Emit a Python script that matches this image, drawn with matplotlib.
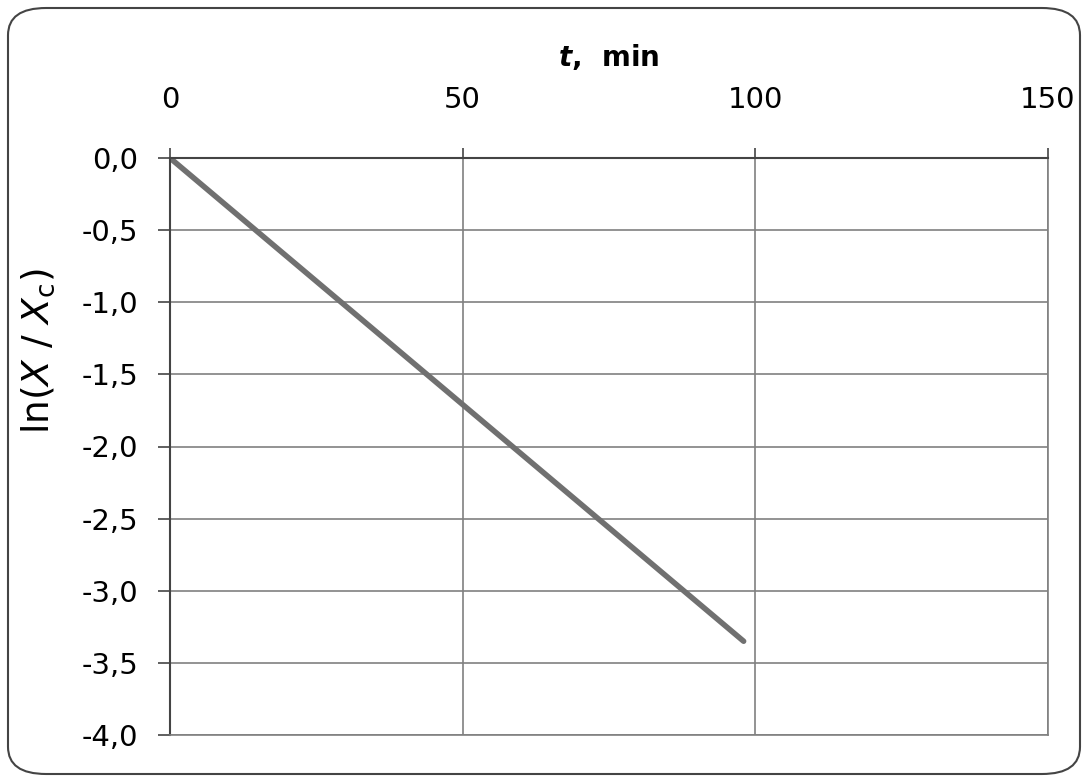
import matplotlib.pyplot as plt
from matplotlib.patches import FancyBboxPatch
from matplotlib.ticker import FuncFormatter

# data
t_min = [0, 98]
ln_ratio = [0.0, -3.35]

x_ticks = [0, 50, 100, 150]
y_ticks = [0.0, -0.5, -1.0, -1.5, -2.0, -2.5, -3.0, -3.5, -4.0]

fig = plt.figure(figsize=(10.88, 7.78), dpi=100)

# rounded frame around the chart
frame = FancyBboxPatch((8 / 1088, 4 / 778), 1072 / 1088, 766 / 778,
                       boxstyle="round,pad=0,rounding_size=0.035",
                       transform=fig.transFigure, fill=False,
                       edgecolor="#444444", linewidth=1.5)
fig.patches.append(frame)

ax = fig.add_axes([170 / 1088, 1 - 735 / 778, 878 / 1088, 577 / 778])
ax.plot(t_min, ln_ratio, color="#707070", linewidth=4, solid_capstyle="round")

ax.set_xlim(0, 150)
ax.set_ylim(-4.0, 0.0)
ax.set_xticks(x_ticks)
ax.set_yticks(y_ticks)
ax.xaxis.tick_top()
ax.xaxis.set_label_position("top")
ax.yaxis.set_major_formatter(FuncFormatter(lambda v, p: f"{v:.1f}".replace(".", ",")))

ax.grid(True, color="#808080", linewidth=1.2)
ax.tick_params(axis="both", labelsize=21, width=1.2, color="#444444")
ax.tick_params(axis="x", length=7, pad=25)
ax.tick_params(axis="y", length=9, pad=14)
for side in ["top", "left"]:
    ax.spines[side].set_color("#444444")
    ax.spines[side].set_linewidth(1.5)
for side in ["bottom", "right"]:
    ax.spines[side].set_color("#808080")
    ax.spines[side].set_linewidth(1.2)

ax.set_xlabel(r"$\boldsymbol{t}$,  min", fontsize=20, fontweight="bold", va="center")
ax.xaxis.set_label_coords(0.5, 1.175)
ax.set_ylabel(r"ln($X$ / $X_{\mathrm{c}}$)", fontsize=27, va="center", ha="center")
ax.yaxis.set_label_coords(-0.15, 0.665)

fig.savefig("out.png", dpi=100)
